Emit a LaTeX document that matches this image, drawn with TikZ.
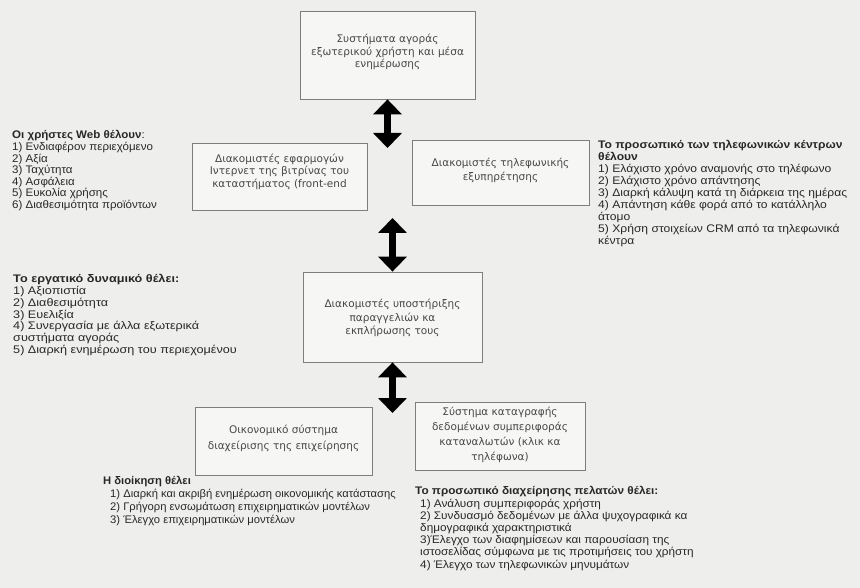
\documentclass[tikz,border=0pt]{standalone}
\usepackage{fontspec}
\setmainfont{Liberation Sans}
\newfontfamily\boxfont{DejaVu Sans}
\usetikzlibrary{arrows.meta}
\definecolor{paper}{RGB}{238,238,236}
\definecolor{boxfill}{RGB}{246,246,245}
\definecolor{boxline}{RGB}{125,125,125}
\definecolor{ink}{RGB}{40,40,40}
\newcommand\blockfont[2]{\fontsize{#1}{#2}\selectfont}

\begin{document}
\begin{tikzpicture}[x=1pt,y=-1pt,
  sysbox/.style={draw=boxline, fill=boxfill, line width=0.8pt, inner sep=0pt},
  boxtext/.style={align=center, text=ink!85, inner sep=0pt,
    font=\boxfont\blockfont{10.5}{#1}},
  note/.style={anchor=north west, align=left, inner sep=0pt, text=ink,
    transform shape, xscale=#1},
  flow/.style={line width=7pt,
    {Triangle[width=28pt,length=15pt]}-{Triangle[width=28pt,length=15pt]}}
]
\fill[paper] (0,0) rectangle (860,588);
\useasboundingbox (0,0) rectangle (860,588);

% system boxes
\node[sysbox, minimum width=175pt, minimum height=88pt] (sys) at (387.5,55) {};
\node[boxtext=12.5] (sys-t) at ([yshift=3pt]sys.center)
  {Συστήματα αγοράς\\εξωτερικού χρήστη και μέσα\\ενημέρωσης};

\node[sysbox, minimum width=175pt, minimum height=67pt] (front) at (279.5,176.5) {};
\node[boxtext=12.5] (front-t) at ([yshift=5pt]front.center)
  {Διακομιστές εφαρμογών\\Ιντερνετ της βιτρίνας του\\καταστήματος (front-end};

\node[sysbox, minimum width=177pt, minimum height=65pt] (tel) at (500.5,172.5) {};
\node[boxtext=14] (tel-t) at ([yshift=2.5pt]tel.center)
  {Διακομιστές τηλεφωνικής\\εξυπηρέτησης};

\node[sysbox, minimum width=179pt, minimum height=90pt] (ord) at (392.5,317) {};
\node[boxtext=13.5] (ord-t) at ([yshift=-1pt]ord.center)
  {Διακομιστές υποστήριξης\\παραγγελιών κα\\εκπλήρωσης τους};

\node[sysbox, minimum width=177pt, minimum height=68pt] (fin) at (283.5,441) {};
\node[boxtext=16] (fin-t) at ([yshift=2.5pt]fin.center)
  {Οικονομικό σύστημα\\διαχείρισης της επιχείρησης};

\node[sysbox, minimum width=170pt, minimum height=68pt] (beh) at (500,436) {};
\node[boxtext=15] (beh-t) at ([yshift=1.5pt]beh.center)
  {Σύστημα καταγραφής\\δεδομένων συμπεριφοράς\\καταναλωτών (κλικ κα\\τηλέφωνα)};

% two-way links
\coordinate (j1) at (387.5,148);
\coordinate (j2) at (392.5,218);
\coordinate (j3) at (392.5,413);
\draw[flow] (sys.south) -- (j1);
\draw[flow] (j2) -- (ord.north);
\draw[flow] (ord.south) -- (j3);

% requirement lists
\node[note=1.05, font=\blockfont{11}{10.3}] (webusers) at (12,130.5)
  {\textbf{Οι χρήστες Web θέλουν}:\\
   1) Ενδιαφέρον περιεχόμενο\\
   2) Αξία\\
   3) Ταχύτητα\\
   4) Ασφάλεια\\
   5) Ευκολία χρήσης\\
   6) Διαθεσιμότητα προϊόντων};

\node[note=1.1, font=\blockfont{11}{11.9}] (telstaff) at (598,140.5)
  {\textbf{Το προσωπικό των τηλεφωνικών κέντρων}\\
   \textbf{θέλουν}\\
   1) Ελάχιστο χρόνο αναμονής στο τηλέφωνο\\
   2) Ελάχιστο χρόνο απάντησης\\
   3) Διαρκή κάλυψη κατά τη διάρκεια της ημέρας\\
   4) Απάντηση κάθε φορά από το κατάλληλο\\
   άτομο\\
   5) Χρήση στοιχείων CRM από τα τηλεφωνικά\\
   κέντρα};

\node[note=1.15, font=\blockfont{11}{11.7}] (workforce) at (13,274.5)
  {\textbf{Το εργατικό δυναμικό θέλει:}\\
   1) Αξιοπιστία\\
   2) Διαθεσιμότητα\\
   3) Ευελιξία\\
   4) Συνεργασία με άλλα εξωτερικά\\
   συστήματα αγοράς\\
   5) Διαρκή ενημέρωση του περιεχομένου};

\node[note=1.02, font=\blockfont{11}{12.8}\bfseries] (mgmthead) at (103,476.5)
  {Η διοίκηση θέλει};
\node[note=1.02, font=\blockfont{11}{12.8}] (mgmt) at (110,489.3)
  {1) Διαρκή και ακριβή ενημέρωση οικονομικής κατάστασης\\
   2) Γρήγορη ενσωμάτωση επιχειρηματικών μοντέλων\\
   3) Έλεγχο επιχειρηματικών μοντέλων};

\node[note=1.07, font=\blockfont{11}{12.2}\bfseries] (crmhead) at (415,486.5)
  {Το προσωπικό διαχείρησης πελατών θέλει:};
\node[note=1.07, font=\blockfont{11}{12.2}] (crm) at (420,498.7)
  {1) Ανάλυση συμπεριφοράς χρήστη\\
   2) Συνδυασμό δεδομένων με άλλα ψυχογραφικά κα\\
   δημογραφικά χαρακτηριστικά\\
   3)Έλεγχο των διαφημίσεων και παρουσίαση της\\
   ιστοσελίδας σύμφωνα με τις προτιμήσεις του χρήστη\\
   4) Έλεγχο των τηλεφωνικών μηνυμάτων};
\end{tikzpicture}
\end{document}
